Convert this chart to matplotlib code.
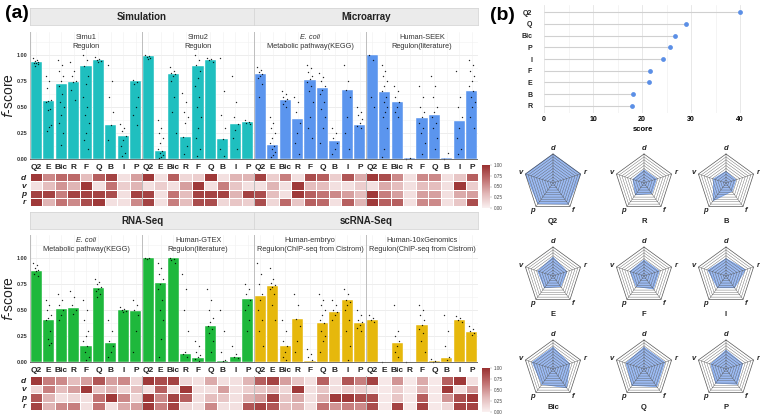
import numpy as np
import matplotlib
matplotlib.use("Agg")
import matplotlib.pyplot as plt
from matplotlib.colors import LinearSegmentedColormap

plt.rcParams['font.family'] = ['Liberation Sans', 'DejaVu Sans']

W, H = 760, 416
fig = plt.figure(figsize=(W / 100, H / 100), dpi=100)

def px_axes(x0, y0, x1, y1):
    return fig.add_axes([x0 / W, 1 - y1 / H, (x1 - x0) / W, (y1 - y0) / H])

# ---------------- data ----------------
methods = ['Q2', 'E', 'Bic', 'R', 'F', 'Q', 'B', 'I', 'P']
metrics = ['d', 'v', 'p', 'r']

top_groups = ['Simulation', 'Microarray']
bottom_groups = ['RNA-Seq', 'scRNA-Seq']
top_facets = [('Simu1', 'Regulon'), ('Simu2', 'Regulon'),
              ('E. coli', 'Metabolic pathway(KEGG)'), ('Human-SEEK', 'Regulon(literature)')]
bottom_facets = [('E. coli', 'Metabolic pathway(KEGG)'), ('Human-GTEX', 'Regulon(literature)'),
                 ('Human-embryo', 'Regulon(ChIP-seq from Cistrom)'),
                 ('Human-10xGenomics', 'Regulon(ChIP-seq from Cistrom)')]

# mean f-score per method
f_simu1 = [0.93, 0.56, 0.72, 0.74, 0.89, 0.95, 0.33, 0.22, 0.75]
f_simu2 = [0.99, 0.08, 0.82, 0.21, 0.89, 0.95, 0.19, 0.34, 0.36]
f_micro_ecoli = [0.82, 0.135, 0.57, 0.385, 0.76, 0.68, 0.17, 0.66, 0.33]
f_micro_seek = [1.0, 0.64, 0.545, 0.005, 0.39, 0.42, 0.005, 0.365, 0.655]
f_rna_ecoli = [0.87, 0.405, 0.51, 0.515, 0.15, 0.71, 0.185, 0.50, 0.49]
f_rna_gtex = [1.0, 0.76, 1.0, 0.08, 0.04, 0.35, 0.01, 0.05, 0.61]
f_sc_embryo = [0.635, 0.735, 0.155, 0.41, 0.01, 0.37, 0.48, 0.60, 0.37]
f_sc_10x = [0.40, 0.0, 0.18, 0.0, 0.36, 0.005, 0.04, 0.40, 0.285]

# individual runs (approximate)
pts_simu1 = [[0.97, 0.95, 0.94, 0.93, 0.92, 0.92, 0.91, 0.89],
             [0.80, 0.75, 0.68, 0.57, 0.56, 0.55, 0.48, 0.47, 0.33, 0.31, 0.27],
             [0.95, 0.9, 0.85, 0.8, 0.75, 0.7, 0.62, 0.55, 0.5, 0.42, 0.35, 0.25, 0.13],
             [0.93, 0.85, 0.8, 0.75, 0.74, 0.66, 0.57],
             [1.0, 0.95, 0.89, 0.8, 0.72, 0.6, 0.5, 0.42, 0.35, 0.25, 0.18, 0.1],
             [0.98, 0.96, 0.95, 0.94, 0.93],
             [0.9, 0.75, 0.6, 0.45, 0.33, 0.18],
             [0.34, 0.3, 0.27, 0.22, 0.18, 0.12, 0.06, 0.03],
             [0.76, 0.74, 0.72, 0.6, 0.5, 0.42, 0.33]]
pts_simu2 = [[1.0, 0.99, 0.98, 0.97, 0.96],
             [0.37, 0.3, 0.25, 0.2, 0.15, 0.1, 0.08, 0.06, 0.04, 0.02, 0.01],
             [0.88, 0.85, 0.83, 0.82, 0.8, 0.75, 0.6, 0.45, 0.25],
             [0.63, 0.55, 0.45, 0.4, 0.35, 0.21, 0.12, 0.05],
             [1.0, 0.95, 0.9, 0.85, 0.78, 0.7, 0.6, 0.5, 0.4, 0.3, 0.2, 0.1, 0.03],
             [0.97, 0.96, 0.95, 0.93],
             [0.97, 0.65, 0.42, 0.3, 0.19, 0.1, 0.03],
             [0.8, 0.55, 0.4, 0.34, 0.28, 0.2, 0.1],
             [0.37, 0.36, 0.35, 0.34]]
pts_micro_ecoli = [[0.88, 0.86, 0.84, 0.82, 0.8, 0.78, 0.72, 0.6],
                   [0.4, 0.35, 0.3, 0.25, 0.2, 0.15, 0.12, 0.1, 0.07, 0.04, 0.02],
                   [0.65, 0.62, 0.6, 0.58, 0.56, 0.53, 0.5],
                   [0.6, 0.55, 0.45, 0.35, 0.25, 0.15, 0.05],
                   [0.9, 0.87, 0.84, 0.8, 0.77, 0.74, 0.7, 0.65, 0.55, 0.4, 0.3, 0.2],
                   [0.83, 0.79, 0.75, 0.7, 0.66, 0.62, 0.55, 0.48, 0.4, 0.3, 0.15],
                   [0.3, 0.25, 0.2, 0.15, 0.1, 0.05],
                   [0.9, 0.75, 0.66, 0.6, 0.4, 0.25, 0.1],
                   [0.5, 0.45, 0.42, 0.38, 0.35, 0.32, 0.3]]
pts_micro_seek = [[1.0, 0.95, 0.6, 0.5],
                  [0.9, 0.85, 0.8, 0.75, 0.7, 0.65, 0.6, 0.55, 0.5, 0.45, 0.4, 0.3, 0.1, 0.02],
                  [0.7, 0.65, 0.6, 0.55, 0.5, 0.45, 0.4],
                  [0.0, 0.01],
                  [0.7, 0.6, 0.5, 0.45, 0.4, 0.35, 0.3, 0.25, 0.15, 0.05],
                  [0.8, 0.7, 0.6, 0.5, 0.45, 0.4, 0.35, 0.3, 0.2, 0.1],
                  [0.0, 0.06],
                  [0.85, 0.6, 0.5, 0.4, 0.3, 0.2, 0.1, 0.05],
                  [0.95, 0.9, 0.85, 0.8, 0.75, 0.7, 0.65, 0.6, 0.55, 0.5, 0.4, 0.3]]
pts_rna_ecoli = [[0.95, 0.93, 0.9, 0.88, 0.87, 0.85, 0.83],
                 [0.6, 0.55, 0.5, 0.45, 0.42, 0.4, 0.3, 0.22, 0.18, 0.16],
                 [0.65, 0.6, 0.55, 0.5, 0.45, 0.4],
                 [0.68, 0.62, 0.55, 0.5, 0.46],
                 [0.6, 0.5, 0.4, 0.3, 0.25, 0.2, 0.15, 0.1, 0.05, 0.02],
                 [0.8, 0.77, 0.75, 0.72, 0.7, 0.68, 0.65, 0.62],
                 [0.4, 0.3, 0.2, 0.15, 0.1, 0.05],
                 [0.53, 0.51, 0.5, 0.49, 0.48],
                 [0.6, 0.55, 0.5, 0.45, 0.3, 0.1]]
pts_rna_gtex = [[1.0, 1.0, 0.99],
                [0.95, 0.9, 0.85, 0.8, 0.75, 0.7, 0.6, 0.5, 0.4, 0.22, 0.05],
                [1.0, 0.99, 0.98, 0.95],
                [0.85, 0.7, 0.5, 0.3, 0.1, 0.08, 0.05],
                [0.2, 0.15, 0.1, 0.07, 0.05, 0.03, 0.01],
                [0.7, 0.6, 0.5, 0.42, 0.38, 0.35, 0.32, 0.28, 0.2, 0.1],
                [0.5, 0.3, 0.1, 0.02, 0.01],
                [0.15, 0.08, 0.05, 0.04],
                [0.75, 0.7, 0.65, 0.6, 0.55, 0.5, 0.4, 0.3]]
pts_sc_embryo = [[0.95, 0.85, 0.75, 0.65, 0.6, 0.5, 0.4, 0.3, 0.15],
                 [0.9, 0.8, 0.76, 0.74, 0.72, 0.7, 0.65, 0.55, 0.4],
                 [0.4, 0.3, 0.2, 0.15, 0.1, 0.05, 0.02],
                 [0.65, 0.55, 0.41, 0.35, 0.2, 0.1],
                 [0.12, 0.08, 0.05, 0.02],
                 [0.65, 0.6, 0.55, 0.5, 0.45, 0.4, 0.37, 0.3, 0.25, 0.2, 0.1],
                 [0.6, 0.55, 0.5, 0.48, 0.45, 0.4],
                 [0.7, 0.65, 0.6, 0.58, 0.55, 0.5, 0.4, 0.3, 0.15, 0.02],
                 [0.5, 0.45, 0.4, 0.38, 0.36, 0.33, 0.3]]
pts_sc_10x = [[0.45, 0.42, 0.4, 0.38],
              [0.0],
              [0.55, 0.3, 0.25, 0.2, 0.15, 0.1, 0.05],
              [0.0],
              [0.55, 0.5, 0.45, 0.4, 0.36, 0.32, 0.28, 0.2, 0.1],
              [0.03, 0.01, 0.0],
              [0.45, 0.3, 0.15, 0.05, 0.02],
              [0.44, 0.42, 0.4, 0.38],
              [0.35, 0.32, 0.3, 0.28, 0.26]]

# heatmaps: rows d, v, p, r ; columns = methods
hm_simu1 = [[0.95, 0.55, 0.7, 0.7, 0.3, 0.75, 0.9, 0.1, 0.45],
            [0.1, 0.3, 0.5, 0.35, 0.95, 0.1, 0.65, 0.2, 0.35],
            [0.9, 0.9, 0.6, 0.9, 0.9, 0.9, 0.85, 0.1, 0.9],
            [0.95, 0.35, 0.65, 0.55, 0.85, 0.95, 0.1, 0.1, 0.55]]
hm_simu2 = [[0.95, 0.1, 0.75, 0.15, 0.2, 0.95, 0.1, 0.35, 0.35],
            [0.1, 0.2, 0.1, 0.45, 0.95, 0.1, 0.6, 0.25, 0.1],
            [0.9, 0.1, 0.65, 0.3, 0.9, 0.9, 0.9, 0.35, 0.9],
            [0.9, 0.1, 0.6, 0.3, 0.85, 0.85, 0.15, 0.25, 0.2]]
hm_micro_ecoli = [[0.9, 0.2, 0.6, 0.1, 0.85, 0.75, 0.2, 0.8, 0.4],
                  [0.1, 0.35, 0.1, 0.95, 0.3, 0.3, 0.1, 0.1, 0.2],
                  [0.85, 0.3, 0.1, 0.95, 0.75, 0.65, 0.55, 0.45, 0.3],
                  [0.85, 0.15, 0.7, 0.25, 0.75, 0.7, 0.1, 0.75, 0.35]]
hm_micro_seek = [[0.95, 0.85, 0.55, 0.1, 0.55, 0.55, 0.1, 0.25, 0.75],
                 [0.1, 0.4, 0.3, 0.1, 0.3, 0.3, 0.1, 0.95, 0.2],
                 [0.95, 0.6, 0.45, 0.1, 0.45, 0.45, 0.1, 0.4, 0.45],
                 [0.95, 0.75, 0.75, 0.1, 0.55, 0.55, 0.1, 0.25, 0.85]]
hm_rna_ecoli = [[0.95, 0.6, 0.55, 0.3, 0.45, 0.8, 0.45, 0.55, 0.15],
                [0.15, 0.6, 0.3, 0.45, 0.95, 0.25, 0.35, 0.15, 0.3],
                [0.8, 0.35, 0.1, 0.15, 0.1, 0.65, 0.95, 0.55, 0.15],
                [0.9, 0.35, 0.55, 0.6, 0.1, 0.65, 0.1, 0.4, 0.45]]
hm_rna_gtex = [[0.95, 0.85, 0.9, 0.15, 0.1, 0.4, 0.1, 0.1, 0.35],
               [0.1, 0.75, 0.1, 0.95, 0.1, 0.1, 0.45, 0.1, 0.2],
               [0.95, 0.55, 0.9, 0.75, 0.1, 0.3, 0.25, 0.1, 0.35],
               [0.95, 0.6, 0.9, 0.15, 0.1, 0.55, 0.1, 0.1, 0.8]]
hm_sc_embryo = [[0.75, 0.9, 0.45, 0.25, 0.1, 0.75, 0.1, 0.8, 0.6],
                [0.25, 0.3, 0.15, 0.95, 0.1, 0.25, 0.1, 0.2, 0.2],
                [0.45, 0.9, 0.25, 0.4, 0.1, 0.35, 0.95, 0.95, 0.85],
                [0.9, 0.8, 0.3, 0.35, 0.1, 0.65, 0.5, 0.6, 0.55]]
hm_sc_10x = [[0.9, 0.05, 0.5, 0.05, 0.4, 0.05, 0.75, 0.95, 0.1],
             [0.1, 0.05, 0.2, 0.05, 0.35, 0.05, 0.95, 0.1, 0.45],
             [0.85, 0.05, 0.25, 0.05, 0.75, 0.05, 0.5, 0.85, 0.95],
             [0.85, 0.05, 0.9, 0.05, 0.9, 0.05, 0.15, 0.9, 0.9]]

# panel (b)
score_methods = ['Q2', 'Q', 'Bic', 'P', 'I', 'F', 'E', 'B', 'R']
scores = [40.0, 29.0, 26.8, 25.8, 24.3, 21.6, 21.4, 18.2, 18.0]

radar_axes_labels = ['d', 'r', 'f', 'p', 'v']
radar_order = [['Q2', 'R', 'B'], ['E', 'F', 'I'], ['Bic', 'Q', 'P']]
radar_vals = {
    'Q2': [1.0, 1.0, 0.9, 0.88, 1.0],
    'R': [0.45, 0.45, 0.45, 0.5, 0.4],
    'B': [0.4, 0.35, 0.35, 0.75, 0.45],
    'E': [0.65, 0.5, 0.45, 0.5, 0.55],
    'F': [0.55, 0.55, 0.55, 0.45, 0.5],
    'I': [0.6, 0.7, 0.5, 0.5, 0.65],
    'Bic': [0.75, 0.6, 0.8, 0.65, 0.75],
    'Q': [0.75, 0.75, 0.75, 0.7, 0.65],
    'P': [0.65, 0.6, 0.65, 0.6, 0.55],
}

# ---------------- style ----------------
col_sim = '#1FBFBF'
col_micro = '#5B95EE'
col_rna = '#1EB83C'
col_sc = '#E6B80C'
hm_cmap = LinearSegmentedColormap.from_list('hm', ['#FAF0F0', '#E2B8B8', '#C07070', '#993030'])
sep_col = '#BDBDBD'


def draw_section(y_strip, y_top, y_base, y_hm0, y_hm1, groups, facets, fvals, pts, hms, colors):
    x0, x1 = 30, 478
    xmid = (x0 + x1) / 2
    # strips
    for k, g in enumerate(groups):
        sx0 = x0 if k == 0 else xmid
        sx1 = xmid if k == 0 else x1
        sa = px_axes(sx0, y_strip, sx1, y_strip + 17)
        sa.set_facecolor('#EBEBEB')
        sa.set_xticks([]); sa.set_yticks([])
        for s in sa.spines.values():
            s.set_color('#D6D6D6'); s.set_linewidth(0.6)
        sa.text(0.5, 0.5, g, ha='center', va='center', fontsize=7, fontweight='bold',
                color='#222222', transform=sa.transAxes)

    ax = px_axes(x0, y_top, x1, y_base)
    ylo, yhi = -0.01, (y_base - y_top) / 104.0 - 0.01
    ax.set_ylim(ylo, yhi)
    ax.set_xlim(-0.5, 35.5)
    for yy in [0.125, 0.375, 0.625, 0.875, 1.125]:
        ax.axhline(yy, color='#F2F2F2', lw=0.4, zorder=0)
    for yy in [0.25, 0.5, 0.75, 1.0]:
        ax.axhline(yy, color='#E6E6E6', lw=0.5, zorder=0)
    for xx in range(36):
        ax.axvline(xx, color='#F0F0F0', lw=0.4, zorder=0)
    golden = 0.618034
    for fi in range(4):
        xs = np.arange(9) + fi * 9
        ax.bar(xs, fvals[fi], width=0.9, color=colors[fi], edgecolor='white', lw=0.3, zorder=2)
        for bi in range(9):
            vals = np.array(pts[fi][bi])
            n = len(vals)
            off = ((np.arange(n) * golden) % 1 - 0.5) * 0.5
            ax.scatter(xs[bi] + off, vals, s=1.0, color='black', alpha=0.85, lw=0, zorder=3)
        name, sub = facets[fi]
        style = 'italic' if name == 'E. coli' else 'normal'
        ax.text(fi * 9 + 4, 1.165, name, ha='center', va='center', fontsize=5.3,
                style=style, color='#333333')
        ax.text(fi * 9 + 4, 1.085, sub, ha='center', va='center', fontsize=5.3, color='#333333')
    for sx in [8.5, 17.5, 26.5]:
        ax.axvline(sx, color=sep_col, lw=0.7, zorder=4)
    ax.axvline(-0.5, color=sep_col, lw=0.8, zorder=4)
    ax.axhline(0, color='#555555', lw=0.6, zorder=4)
    for s in ax.spines.values():
        s.set_visible(False)
    ax.set_yticks([0, 0.25, 0.5, 0.75, 1.0])
    ax.set_yticklabels(['0.00', '0.25', '0.50', '0.75', '1.00'], fontsize=4,
                       fontweight='bold', color='#333333')
    ax.set_xticks(np.arange(36))
    ax.set_xticklabels(methods * 4, fontsize=6, fontweight='bold', color='#222222')
    ax.tick_params(length=0, pad=3)
    ax.tick_params(axis='y', pad=1.5)
    fig.text(9 / W, 1 - (y_top + y_base) / 2 / H, '$f$-score', rotation=90, fontsize=10,
             ha='center', va='center', color='#222222')

    hax = px_axes(x0, y_hm0, x1, y_hm1)
    data = np.hstack([np.array(h) for h in hms])
    mesh = hax.pcolormesh(np.arange(37) - 0.5, np.arange(5), data, cmap=hm_cmap,
                          vmin=0, vmax=1, edgecolors='white', lw=0.4)
    hax.set_xlim(-0.5, 35.5)
    hax.set_ylim(4, 0)
    for sx in [8.5, 17.5, 26.5]:
        hax.axvline(sx, color=sep_col, lw=0.7)
    for s in hax.spines.values():
        s.set_visible(False)
    hax.set_xticks([])
    hax.set_yticks(np.arange(4) + 0.5)
    hax.set_yticklabels(metrics, fontsize=6, fontweight='bold', style='italic', color='#222222')
    hax.tick_params(length=0, pad=3)

    cax = px_axes(482, y_hm0 - 8, 490, y_hm1 + 2)
    cb = fig.colorbar(mesh, cax=cax, ticks=[0, 0.25, 0.5, 0.75, 1.0])
    cb.outline.set_visible(False)
    cb.ax.set_yticklabels(['0.00', '0.25', '0.50', '0.75', '1.00'], fontsize=3.3, color='#444444')
    cb.ax.tick_params(length=1.5, width=0.3, pad=1, colors='#999999', labelcolor='#444444')


draw_section(8, 32, 160, 173, 206, top_groups, top_facets,
             [f_simu1, f_simu2, f_micro_ecoli, f_micro_seek],
             [pts_simu1, pts_simu2, pts_micro_ecoli, pts_micro_seek],
             [hm_simu1, hm_simu2, hm_micro_ecoli, hm_micro_seek],
             [col_sim, col_sim, col_micro, col_micro])
draw_section(212, 235, 363, 376, 410, bottom_groups, bottom_facets,
             [f_rna_ecoli, f_rna_gtex, f_sc_embryo, f_sc_10x],
             [pts_rna_ecoli, pts_rna_gtex, pts_sc_embryo, pts_sc_10x],
             [hm_rna_ecoli, hm_rna_gtex, hm_sc_embryo, hm_sc_10x],
             [col_rna, col_rna, col_sc, col_sc])

fig.text(5 / W, 1 - 14 / H, '(a)', fontsize=14, fontweight='bold', va='center', ha='left')
fig.text(490 / W, 1 - 15 / H, '(b)', fontsize=14, fontweight='bold', va='center', ha='left')

# ---------------- panel (b): lollipop ----------------
lax = px_axes(535, 5, 750, 113)
ypos = np.arange(len(scores))[::-1]
lax.hlines(ypos, 0, scores, color='#D0D0D0', lw=0.8, zorder=1)
lax.scatter(scores, ypos, s=12, color='#5B8FE6', zorder=3, lw=0)
lax.set_xlim(-1.84, 42.04)
lax.set_ylim(-0.6, 8.6)
lax.set_xticks([0, 10, 20, 30, 40])
lax.set_xticks([5, 15, 25, 35], minor=True)
lax.grid(axis='x', which='major', color='#E4E4E4', lw=0.6)
lax.grid(axis='x', which='minor', color='#F0F0F0', lw=0.5)
lax.set_axisbelow(True)
lax.set_yticks(ypos)
lax.set_yticklabels(score_methods, fontsize=5, fontweight='bold', color='#222222')
lax.tick_params(length=0, labelsize=5, pad=2)
lax.tick_params(which='minor', length=0)
for t in lax.get_xticklabels():
    t.set_fontweight('bold')
lax.set_xlabel('score', fontsize=5.5, fontweight='bold', labelpad=2)
for s in lax.spines.values():
    s.set_visible(False)

# ---------------- panel (b): radar charts ----------------
angles = np.deg2rad(90 - 72 * np.arange(5))
col_centers = [553, 644, 726]
row_centers = [183, 276, 369]
half = 40
lim = 1.38
for ri, row in enumerate(radar_order):
    for ci, name in enumerate(row):
        cx, cy = col_centers[ci], row_centers[ri]
        rax = px_axes(cx - half, cy - half, cx + half, cy + half)
        rax.set_xlim(-lim, lim)
        rax.set_ylim(-lim, lim)
        rax.set_aspect('equal')
        rax.axis('off')
        ring_ang = np.append(angles, angles[0])
        v = np.array(radar_vals[name])
        v = np.append(v, v[0])
        rax.fill(v * np.cos(ring_ang), v * np.sin(ring_ang), color='#8AAEF0', alpha=0.85,
                 lw=0.6, edgecolor='#6A98E8', zorder=1)
        for lev in np.arange(0.1, 1.01, 0.1):
            lw = 0.5 if lev > 0.95 else 0.28
            rax.plot(lev * np.cos(ring_ang), lev * np.sin(ring_ang), color='#555555', lw=lw, zorder=2)
        for a in angles:
            rax.plot([0, np.cos(a)], [0, np.sin(a)], color='#555555', lw=0.3, zorder=2)
        for lab, a in zip(radar_axes_labels, angles):
            rax.text(1.18 * np.cos(a), 1.18 * np.sin(a), lab, ha='center', va='center',
                     fontsize=5.5, style='italic', fontweight='bold', color='#222222')
        rax.text(0, -1.32, name, ha='center', va='center', fontsize=5.5, fontweight='bold',
                 color='#222222', clip_on=False)

fig.savefig('out.png', dpi=100)
